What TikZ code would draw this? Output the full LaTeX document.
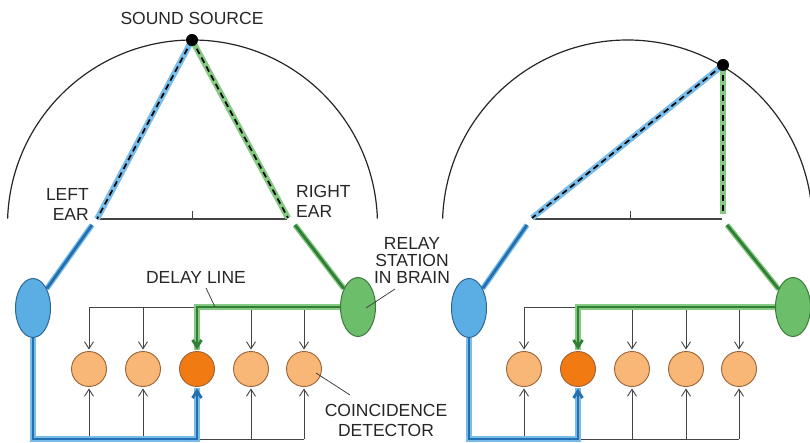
\documentclass[tikz,border=0pt]{standalone}
\usepackage{fontspec}
\setmainfont{Liberation Sans}
\usetikzlibrary{arrows.meta,shapes.geometric,backgrounds}
\definecolor{lblue}{HTML}{78BDEA}
\definecolor{dblue}{HTML}{2270B0}
\definecolor{bfill}{HTML}{5BAEE3}
\definecolor{bedge}{HTML}{2B6796}
\definecolor{lgreen}{HTML}{86C983}
\definecolor{dgreen}{HTML}{2F7F35}
\definecolor{gfill}{HTML}{6DBE6A}
\definecolor{gedge}{HTML}{3C7A3A}
\definecolor{lorange}{HTML}{F9B777}
\definecolor{dorange}{HTML}{F27A12}
\definecolor{oedge}{HTML}{9A6236}
\definecolor{thin}{HTML}{444444}
\begin{document}
\begin{tikzpicture}[x=1pt,y=-1pt,
  lbl/.style={font=\fontsize{17.5}{20}\selectfont, inner sep=0pt, text=black!85},
  lbltight/.style={font=\fontsize{17.5}{17}\selectfont, inner sep=0pt, text=black!85},
  station/.style={ellipse, minimum width=35pt, minimum height=59pt, inner sep=0pt, line width=1pt},
  det/.style={circle, minimum size=35pt, inner sep=0pt, draw=oedge, line width=0.9pt, fill=lorange},
  hot/.style={fill=dorange},
  srcdot/.style={circle, fill=black, minimum size=12pt, inner sep=0pt},
  ray/.style={line width=6pt},
  dashcore/.style={draw=black, line width=1.7pt, dash pattern=on 6pt off 4pt},
  bluenerve/.style={preaction={draw=lblue, line width=5.5pt, -}, draw=dblue, line width=2.8pt},
  greennerve/.style={preaction={draw=lgreen, line width=5.5pt, -}, draw=dgreen, line width=2.8pt},
  thinline/.style={draw=thin, line width=0.9pt},
  tip/.style={-{Straight Barb[length=7pt,width=9pt]}, shorten >=1.5pt},
  ptr/.style={draw=thin, line width=0.8pt}
]
\useasboundingbox (0,0) rectangle (810,443);
\clip (0,0) rectangle (810,443);

% ================= LEFT PANEL =================
\coordinate (sA) at (192,40);
\coordinate (eLA) at (97,219);
\coordinate (eRA) at (288,218);
\coordinate (eLA2) at (92,225);
\coordinate (eRA2) at (295,225);
\coordinate (bsA1) at (98,219);
\coordinate (bsA2) at (287,219);
\coordinate (tkA1) at (192,219);
\coordinate (tkA2) at (192,211);

\draw[line width=1.2pt, draw=black!85] (192.5,225) ++(182:185) arc[start angle=182,end angle=358,radius=185];
\draw[thinline, line width=1.2pt] (bsA1) -- (bsA2);
\draw[thinline] (tkA1) -- (tkA2);

\node[station, draw=bedge, fill=bfill] (lA) at (33,308) {};
\node[station, draw=gedge, fill=gfill] (rA) at (358,307) {};
\foreach \i/\x in {1/89,2/143,3/197,4/251,5/304}{
  \coordinate (tA\i) at (\x,307);
  \coordinate (bA\i) at (\x,439);
}
\node[det] (dA1) at (89,369) {};
\node[det] (dA2) at (143,369) {};
\node[det,hot] (dA3) at (197,369) {};
\node[det] (dA4) at (251,369) {};
\node[det] (dA5) at (304,369) {};

\begin{pgfonlayer}{background}
  \draw[thinline] (tA1) -- (tA3);
  \draw[thinline] (bA3) -- (bA5);
  \foreach \i in {1,2,4,5}{
    \draw[thinline, tip] (tA\i) -- (dA\i.north);
    \draw[thinline, tip] (bA\i) -- (dA\i.south);
  }
  \draw[bluenerve] (eLA2) -- (lA);
  \draw[greennerve] (eRA2) -- (rA);
  \draw[greennerve, tip] (rA) -- (tA3) -- (dA3.north);
  \draw[bluenerve, tip] (lA) |- (bA3) -- (dA3.south);
\end{pgfonlayer}

\draw[lblue, ray] (sA) -- (eLA);
\draw[dashcore] (sA) -- (eLA);
\draw[lgreen, ray] (sA) -- (eRA);
\draw[dashcore] (sA) -- (eRA);
\node[srcdot] (srcA) at (sA) {};

\node[lbl] (tsrc) at (192,18) {SOUND SOURCE};
\node[lbl, align=right, anchor=east] (tleft) at (89,204) {LEFT\\EAR};
\node[lbl, align=left, anchor=west] (tright) at (296,201) {RIGHT\\EAR};
\node[lbltight, align=center] (trelay) at (412,260) {RELAY\\STATION\\IN BRAIN};
\node[lbl] (tdelay) at (196,277) {DELAY LINE};
\node[lbl, align=center] (tcoin) at (386,420) {COINCIDENCE\\DETECTOR};

\coordinate (pd1) at (206,288);
\coordinate (pd2) at (215,307);
\draw[ptr] (pd1) -- (pd2);
\coordinate (pr1) at (395,289);
\coordinate (pr2) at (366,308);
\draw[ptr] (pr1) -- (pr2);
\coordinate (pc1) at (350,395);
\coordinate (pc2) at (316,373);
\draw[ptr] (pc1) -- (pc2);

% ================= RIGHT PANEL =================
\coordinate (sB) at (723,65);
\coordinate (eLB) at (532,218);
\coordinate (eRB) at (723,214);
\coordinate (eLB2) at (527,225);
\coordinate (eRB2) at (727,225);
\coordinate (bsB1) at (533,219);
\coordinate (bsB2) at (722,219);
\coordinate (tkB1) at (630,219);
\coordinate (tkB2) at (630,211);

\draw[line width=1.2pt, draw=black!85] (627.5,225) ++(182:185) arc[start angle=182,end angle=358,radius=185];
\draw[thinline, line width=1.2pt] (bsB1) -- (bsB2);
\draw[thinline] (tkB1) -- (tkB2);

\node[station, draw=bedge, fill=bfill] (lB) at (469,308) {};
\node[station, draw=gedge, fill=gfill] (rB) at (793,307) {};
\foreach \i/\x in {1/524,2/578,3/632,4/686,5/739}{
  \coordinate (tB\i) at (\x,307);
  \coordinate (bB\i) at (\x,439);
}
\node[det] (dB1) at (524,369) {};
\node[det,hot] (dB2) at (578,369) {};
\node[det] (dB3) at (632,369) {};
\node[det] (dB4) at (686,369) {};
\node[det] (dB5) at (739,369) {};

\begin{pgfonlayer}{background}
  \draw[thinline] (tB1) -- (tB2);
  \draw[thinline] (bB2) -- (bB5);
  \foreach \i in {1,3,4,5}{
    \draw[thinline, tip] (tB\i) -- (dB\i.north);
    \draw[thinline, tip] (bB\i) -- (dB\i.south);
  }
  \draw[bluenerve] (eLB2) -- (lB);
  \draw[greennerve] (eRB2) -- (rB);
  \draw[greennerve, tip] (rB) -- (tB2) -- (dB2.north);
  \draw[bluenerve, tip] (lB) |- (bB2) -- (dB2.south);
\end{pgfonlayer}

\draw[lblue, ray] (sB) -- (eLB);
\draw[dashcore] (sB) -- (eLB);
\draw[lgreen, ray] (sB) -- (eRB);
\draw[dashcore] (sB) -- (eRB);
\node[srcdot] (srcB) at (sB) {};
\end{tikzpicture}
\end{document}
